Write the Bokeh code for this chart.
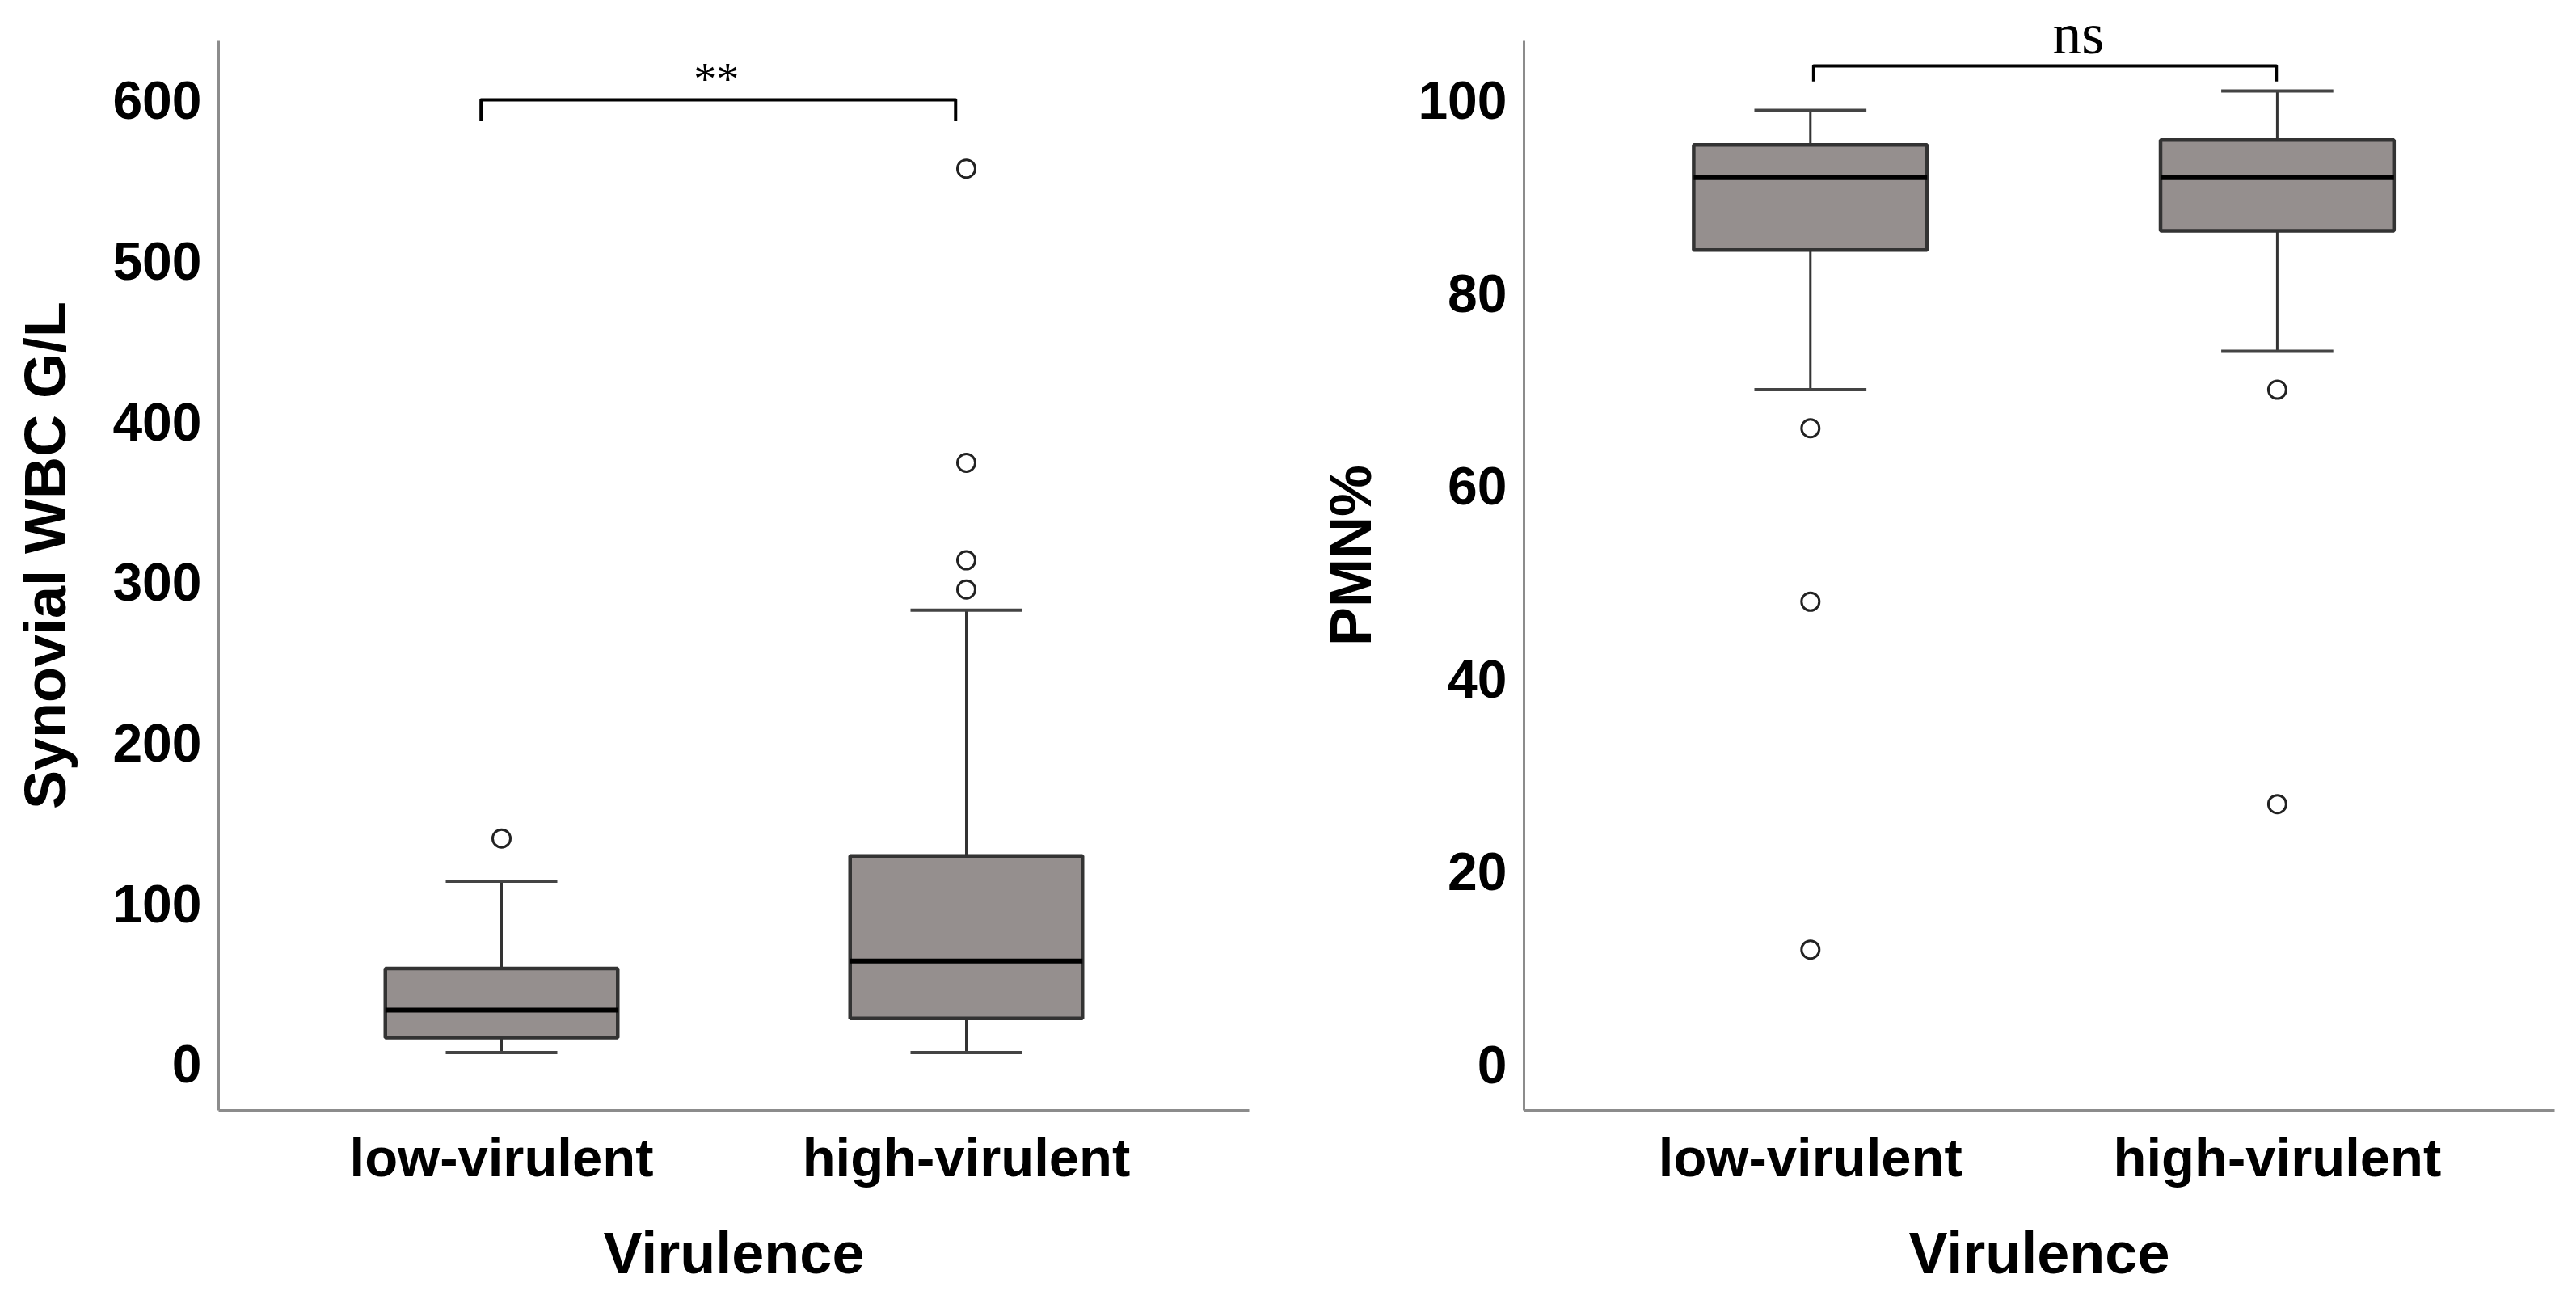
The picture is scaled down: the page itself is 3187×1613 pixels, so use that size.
from bokeh.plotting import figure
from bokeh.layouts import row
from bokeh.models import FixedTicker, Range1d
from bokeh.core.properties import value
from bokeh.embed import file_html
from bokeh.resources import INLINE

# ---------------- data ----------------
categories = ["low-virulent", "high-virulent"]
cat_pos = [1, 2]

# Synovial WBC G/L
wbc_whisker_low = [7.3, 7.3]
wbc_q1 = [16.6, 28.5]
wbc_median = [33.7, 64.3]
wbc_q3 = [59.6, 129.7]
wbc_whisker_high = [114.0, 282.7]
wbc_outliers_low = [140.6]
wbc_outliers_high = [557.6, 374.5, 313.8, 295.6]
wbc_ticks = [0, 100, 200, 300, 400, 500, 600]
wbc_sig = "**"

# PMN%
pmn_whisker_low = [70.0, 74.0]
pmn_q1 = [84.5, 86.5]
pmn_median = [92.0, 92.0]
pmn_q3 = [95.4, 95.9]
pmn_whisker_high = [99.0, 101.0]
pmn_outliers_low = [66.0, 48.0, 11.9]
pmn_outliers_high = [70.0, 27.0]
pmn_ticks = [0, 20, 40, 60, 80, 100]
pmn_sig = "ns"

# ---------------- styling ----------------
BOX_W = 0.50
CAP_HALF = 0.12
FILL = "#958f8e"
SANS = "Liberation Sans"
SERIF = "Liberation Serif"


def make_panel(ylabel, wl, q1, med, q3, wh, out_lo, out_hi, ticks,
               xr, yr, axis_top, width, border_left, border_right,
               sig, bracket_x, bracket_y, bracket_leg, sig_x, sig_y, sig_size):
    p = figure(width=width, height=1592, output_backend="svg", toolbar_location=None,
               x_range=Range1d(*xr), y_range=Range1d(*yr),
               min_border_left=border_left, min_border_right=border_right,
               min_border_top=0, min_border_bottom=218)
    p.outline_line_color = None
    p.xgrid.visible = False
    p.ygrid.visible = False
    p.background_fill_color = "white"
    p.border_fill_color = "white"

    # boxes
    p.vbar(x=cat_pos, width=BOX_W, bottom=q1, top=q3, fill_color=FILL,
           line_color="#333333", line_width=4.5)
    # medians
    p.segment(x0=[x - BOX_W / 2 for x in cat_pos], x1=[x + BOX_W / 2 for x in cat_pos],
              y0=med, y1=med, line_color="black", line_width=6)
    # whiskers
    p.segment(x0=cat_pos, x1=cat_pos, y0=q3, y1=wh, line_color="#333333", line_width=3)
    p.segment(x0=cat_pos, x1=cat_pos, y0=q1, y1=wl, line_color="#333333", line_width=3)
    # caps
    p.segment(x0=[x - CAP_HALF for x in cat_pos], x1=[x + CAP_HALF for x in cat_pos],
              y0=wh, y1=wh, line_color="#444444", line_width=4)
    p.segment(x0=[x - CAP_HALF for x in cat_pos], x1=[x + CAP_HALF for x in cat_pos],
              y0=wl, y1=wl, line_color="#444444", line_width=4)
    # outliers
    ox = [cat_pos[0]] * len(out_lo) + [cat_pos[1]] * len(out_hi)
    oy = list(out_lo) + list(out_hi)
    p.scatter(x=ox, y=oy, marker="circle", size=22, fill_color="white",
              line_color="#222222", line_width=3)

    # significance bracket
    p.line(x=[bracket_x[0], bracket_x[0], bracket_x[1], bracket_x[1]],
           y=[bracket_leg, bracket_y, bracket_y, bracket_leg],
           line_color="black", line_width=4, line_join="round")
    p.text(x=[sig_x], y=[sig_y], text=[sig], text_font=value(SERIF),
           text_font_size=sig_size, text_align="center", text_baseline="middle",
           text_color="black")

    # axes
    for ax in (p.xaxis[0], p.yaxis[0]):
        ax.axis_line_color = "#8c8c8c"
        ax.axis_line_width = 3
        ax.major_tick_line_color = None
        ax.minor_tick_line_color = None
        ax.major_tick_out = 0
        ax.major_tick_in = 0
        ax.major_label_text_font = SANS
        ax.major_label_text_font_style = "bold"
        ax.major_label_text_color = "black"
        ax.axis_label_text_font = SANS
        ax.axis_label_text_font_style = "bold"
        ax.axis_label_text_color = "black"
        ax.axis_label_text_font_size = "72px"

    p.xaxis.ticker = FixedTicker(ticks=cat_pos)
    p.xaxis.major_label_overrides = {c: n for c, n in zip(cat_pos, categories)}
    p.xaxis.major_label_text_font_size = "67px"
    p.xaxis.major_label_standoff = 20
    p.xaxis.axis_label = "Virulence"
    p.xaxis.axis_label_standoff = 38

    p.yaxis.ticker = FixedTicker(ticks=ticks)
    p.yaxis.bounds = (yr[0], axis_top)
    p.yaxis.major_label_text_font_size = "66px"
    p.yaxis.major_label_standoff = 21
    p.yaxis.axis_label = ylabel
    p.yaxis.axis_label_standoff = 40
    return p


p1 = make_panel("Synovial WBC G/L", wbc_whisker_low, wbc_q1, wbc_median, wbc_q3,
                wbc_whisker_high, wbc_outliers_low, wbc_outliers_high, wbc_ticks,
                (0.3913, 2.6087), (-28.7, 662.4), 637.2, 1582, 270, 37,
                wbc_sig, (0.956, 1.977), 600.5, 587.1, 1.462, 613.5, "56px")
p2 = make_panel("PMN%", pmn_whisker_low, pmn_q1, pmn_median, pmn_q3,
                pmn_whisker_high, pmn_outliers_low, pmn_outliers_high, pmn_ticks,
                (0.3866, 2.594), (-4.78, 110.4), 106.2, 1589, 303, 11,
                pmn_sig, (1.007, 1.998), 103.6, 102.0, 1.574, 106.9, "72px")

layout = row(p1, p2)
open("out.html", "w").write(file_html(layout, INLINE))
